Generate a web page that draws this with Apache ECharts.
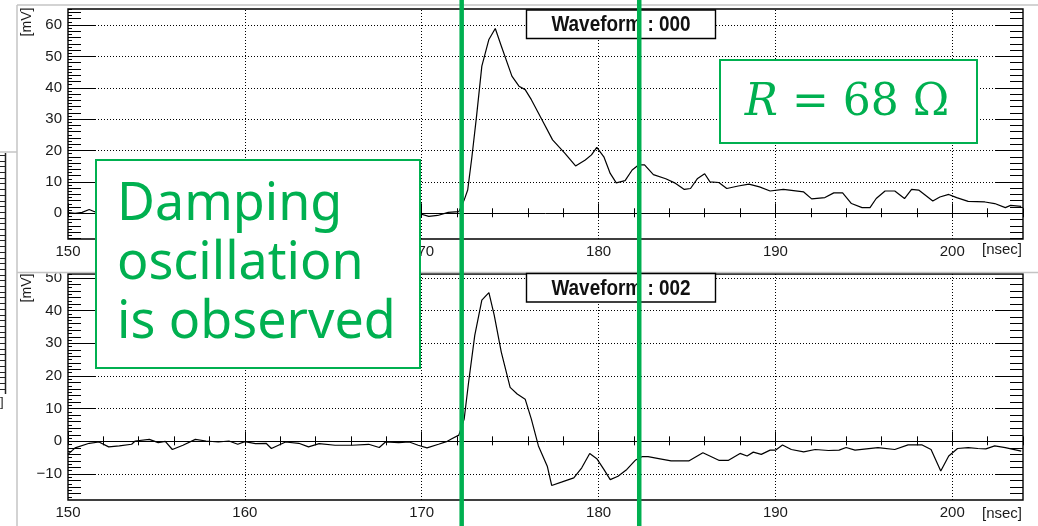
<!DOCTYPE html>
<html>
<head>
<meta charset="utf-8">
<script src="https://cdn.jsdelivr.net/npm/echarts@6/dist/echarts.min.js"></script>
<style>
  html, body { margin: 0; padding: 0; background: #fff; }
  #chart { width: 1038px; height: 526px; }
</style>
</head>
<body>
<div id="chart"></div>
<script>
// ---- waveform 000 (upper panel): time [nsec], amplitude [mV]
const timeTop = [
  150.0, 150.4, 150.8, 151.2, 151.5, 152.0, 152.6, 153.2, 153.9, 154.5,
  155.2, 155.9, 156.6, 157.3, 158.0, 158.8, 159.5, 160.2, 160.9, 161.6,
  162.3, 163.0, 163.8, 164.5, 165.2, 166.0, 166.7, 167.4, 168.1, 168.8,
  169.4, 169.8, 170.4, 170.9, 171.5, 172.1, 172.4, 172.6, 172.84, 173.1,
  173.4, 173.8, 174.16, 174.5, 175.1, 175.5, 175.85, 176.2, 176.8, 177.4,
  178.1, 178.7, 179.25, 179.6, 179.9, 180.3, 180.66, 181.0, 181.5, 181.9,
  182.26, 182.6, 183.1, 183.8, 184.3, 184.85, 185.2, 185.6, 186.0, 186.3,
  186.8, 187.25, 187.9, 188.5, 189.1, 189.7, 190.45, 191.6, 192.05, 192.8,
  193.3, 193.8, 194.3, 194.9, 195.35, 195.7, 196.2, 196.75, 197.3, 197.7,
  198.1, 198.9, 199.3, 199.8, 200.25, 200.9, 201.85, 202.4, 203.0, 203.3,
  203.9
];
const mvTop = [
  0.2, 0.0, 0.3, 1.2, 0.5, 0.0, -0.4, 0.1, -0.6, 0.2,
  -0.3, -1.0, -0.2, 0.3, -0.5, -0.2, -0.8, 0.1, -0.4, -1.1,
  -0.3, 0.2, -0.6, -0.2, -0.9, -0.4, 0.1, -0.7, -0.3, -1.0,
  -0.5, 0.0, -1.0, -0.7, 0.3, 0.5, 4.2, 7.4, 18.0, 30.9,
  46.9, 55.4, 58.9, 53.3, 43.7, 40.5, 39.4, 36.2, 29.8, 23.4,
  19.1, 15.1, 17.0, 18.6, 21.0, 18.0, 12.7, 9.7, 10.4, 13.8,
  15.4, 15.4, 12.3, 11.0, 9.7, 7.6, 7.9, 11.1, 12.6, 10.0,
  9.8, 7.9, 8.7, 9.3, 8.4, 7.1, 7.6, 6.8, 4.6, 5.0,
  6.5, 6.5, 3.1, 1.8, 1.8, 4.7, 7.1, 7.1, 4.7, 7.6,
  7.4, 3.9, 5.2, 6.0, 5.0, 3.8, 3.6, 3.1, 1.8, 2.5,
  2.2
];

// ---- waveform 002 (lower panel)
const timeBottom = [
  150.0, 150.4, 151.2, 151.75, 152.3, 152.9, 153.6, 153.8, 154.6, 155.1,
  155.5, 155.9, 156.5, 157.2, 157.8, 158.5, 159.1, 159.6, 160.0, 160.6,
  161.2, 161.5, 162.3, 163.05, 163.6, 164.2, 165.1, 166.05, 167.0, 167.6,
  167.95, 168.7, 169.3, 169.8, 170.3, 170.95, 171.4, 171.7, 172.1, 172.4,
  172.65, 173.0, 173.4, 173.8, 174.1, 174.5, 175.0, 175.4, 175.85, 176.2,
  176.6, 177.1, 177.35, 177.9, 178.6, 179.05, 179.5, 179.9, 180.3, 180.66,
  181.1, 181.6, 182.1, 182.45, 182.8, 183.4, 184.1, 185.1, 185.9, 186.8,
  187.35, 188.0, 188.4, 188.75, 189.2, 189.7, 190.0, 190.4, 190.9, 191.6,
  192.25, 193.0, 193.6, 194.0, 194.5, 195.8, 196.75, 197.5, 198.3, 198.8,
  199.35, 199.8, 200.3, 200.9, 201.45, 201.9, 202.4, 203.0, 203.9
];
const mvBottom = [
  -4.0, -2.0, -0.6, -0.2, -1.7, -1.4, -0.9, 0.1, 0.6, -0.4,
  0.0, -2.5, -1.2, 0.6, 0.1, -0.2, 0.1, -0.9, -0.1, -0.7,
  -0.6, -2.2, -0.2, -0.6, -1.7, -0.7, -1.2, -1.2, -0.9, -1.9,
  -0.2, -0.4, -0.2, -1.2, -2.0, -0.9, -0.1, 0.8, 1.9, 6.8,
  18.0, 32.4, 43.2, 45.5, 38.6, 27.3, 16.5, 14.5, 12.9, 6.8,
  -1.4, -7.6, -13.5, -12.5, -11.2, -8.1, -3.7, -5.3, -8.6, -11.7,
  -10.7, -8.6, -5.7, -4.7, -4.7, -5.3, -6.0, -6.0, -3.5, -5.8,
  -5.8, -3.7, -4.5, -3.3, -4.0, -2.7, -2.7, -1.1, -2.5, -3.2,
  -2.5, -2.8, -2.7, -1.9, -2.7, -1.9, -2.5, -1.1, -1.1, -2.5,
  -9.1, -4.5, -2.2, -1.9, -2.2, -2.3, -1.4, -1.9, -3.0
];

// ---- axes
const timeRange = [150, 204];
const timeMajorLabels = [150, 160, 170, 180, 190, 200];
const mvRangeTop = [-8.2, 65.1];
const mvRangeBottom = [-17.95, 51.2];
const mvMajorTop = [0, 10, 20, 30, 40, 50, 60];
const mvMajorBottom = [-10, 0, 10, 20, 30, 40, 50];

// ---- annotations
const markerTimes = [172.26, 182.3];
const panelTitles = ['Waveform : 000', 'Waveform : 002'];
const noteText = ['Damping', 'oscillation', 'is observed'];
const resistanceText = { symbol: 'R', rest: ' = 68 \u03A9' };

const GREEN = '#00b050';
const LABEL_FONT = 'Liberation Sans, Arial, sans-serif';

function steps(from, to, step) {
  const out = [];
  for (let v = Math.ceil(from / step) * step; v <= to + 1e-9; v += step) out.push(+v.toFixed(6));
  return out;
}
function pairs(xs, ys) { return xs.map((x, i) => [x, ys[i]]); }
function mvFormat(v) { return v < 0 ? '\u2212' + (-v) : String(v); }

const grids = [
  { left: 68, top: 9, width: 955, height: 230 },
  { left: 68, top: 274, width: 955, height: 226 }
].map(g => Object.assign({
  show: true, borderColor: '#000', borderWidth: 1.4, backgroundColor: '#fff',
  containLabel: false, outerBoundsMode: 'none'
}, g));

const tickLine = { color: '#000', width: 1 };

function timeAxes(g) {
  const base = {
    gridIndex: g, type: 'value', min: timeRange[0], max: timeRange[1],
    axisLine: { show: false }, splitLine: { show: false }, axisLabel: { show: false }
  };
  return [
    Object.assign({}, base, {
      position: 'bottom', interval: 10,
      axisTick: { show: true, inside: true, length: 10, lineStyle: tickLine },
      axisLabel: {
        show: true, showMaxLabel: false, margin: 5, fontSize: 15,
        fontFamily: LABEL_FONT, color: '#1a1a1a'
      }
    }),
    Object.assign({}, base, {
      position: 'bottom', interval: 2,
      axisTick: { show: true, inside: true, length: 5, lineStyle: tickLine }
    }),
    Object.assign({}, base, {
      position: 'top', interval: 2,
      axisTick: { show: true, inside: true, length: 4, lineStyle: tickLine }
    })
  ];
}

function mvAxes(g, range, majors) {
  const minor2 = steps(range[0], range[1], 2);
  const minor1 = steps(range[0], range[1], 1);
  const base = {
    gridIndex: g, type: 'value', min: range[0], max: range[1],
    axisLine: { show: false }, splitLine: { show: false }, axisLabel: { show: false }
  };
  const tick = (len, values) => ({
    show: true, inside: true, length: len, customValues: values, lineStyle: tickLine
  });
  return [
    Object.assign({}, base, {
      position: 'left', axisTick: tick(27, majors),
      axisLabel: {
        show: true, customValues: majors, formatter: mvFormat, margin: 6,
        fontSize: 15, fontFamily: LABEL_FONT, color: '#1a1a1a'
      }
    }),
    Object.assign({}, base, { position: 'left', axisTick: tick(13, minor2) }),
    Object.assign({}, base, { position: 'left', axisTick: tick(4, minor1) }),
    Object.assign({}, base, { position: 'right', axisTick: tick(27, majors) }),
    Object.assign({}, base, { position: 'right', axisTick: tick(13, minor2) })
  ];
}

function gridLines(majors) {
  const dotted = { type: [1, 2], color: '#000', width: 1 };
  const data = [];
  timeMajorLabels.slice(1).forEach(t => data.push({ xAxis: t, lineStyle: dotted }));
  majors.filter(v => v !== 0).forEach(v => data.push({ yAxis: v, lineStyle: dotted }));
  data.push({ yAxis: 0, lineStyle: { type: 'solid', color: '#000', width: 1 } });
  return {
    silent: true, symbol: ['none', 'none'], label: { show: false },
    emphasis: { disabled: true }, animation: false, data
  };
}

function waveSeries(xIdx, yIdx, xs, ys, majors) {
  return {
    type: 'line', xAxisIndex: xIdx, yAxisIndex: yIdx,
    data: pairs(xs, ys), showSymbol: false, symbol: 'none', smooth: false,
    silent: true, clip: true, z: 3,
    lineStyle: { color: '#000', width: 1.2 },
    markLine: gridLines(majors)
  };
}

const chart = echarts.init(document.getElementById('chart'), null, { renderer: 'canvas' });

chart.setOption({
  animation: false,
  backgroundColor: '#fff',
  grid: grids,
  xAxis: timeAxes(0).concat(timeAxes(1)),
  yAxis: mvAxes(0, mvRangeTop, mvMajorTop).concat(mvAxes(1, mvRangeBottom, mvMajorBottom)),
  series: [
    waveSeries(0, 0, timeTop, mvTop, mvMajorTop),
    waveSeries(3, 5, timeBottom, mvBottom, mvMajorBottom)
  ]
});

// ---- overlays: pad borders, axis units, panel titles, notes and marker lines
const padGray = '#c4c4c4';
const els = [];

// pad borders and the edge of the neighbouring pad on the left
els.push({ type: 'line', shape: { x1: 17, y1: 5, x2: 17, y2: 526 }, style: { stroke: padGray, lineWidth: 1.5 }, z: 50 });
els.push({ type: 'line', shape: { x1: 17, y1: 5, x2: 1038, y2: 5 }, style: { stroke: padGray, lineWidth: 1.5 }, z: 50 });
els.push({ type: 'rect', shape: { x: 18, y: 256, width: 48, height: 17.5 }, style: { fill: '#fff' }, z: 49 });
els.push({ type: 'line', shape: { x1: 17, y1: 272.5, x2: 1038, y2: 272.5 }, style: { stroke: padGray, lineWidth: 1.5 }, z: 50 });
els.push({ type: 'line', shape: { x1: 0, y1: 152, x2: 17, y2: 152 }, style: { stroke: padGray, lineWidth: 1.5 }, z: 50 });
els.push({ type: 'line', shape: { x1: 5.5, y1: 153, x2: 5.5, y2: 394 }, style: { stroke: '#222', lineWidth: 1.5 }, z: 50 });
for (let y = 155; y <= 392; y += 5.7) {
  els.push({ type: 'line', shape: { x1: 0, y1: Math.round(y) + 0.5, x2: 5.5, y2: Math.round(y) + 0.5 }, style: { stroke: '#222', lineWidth: 1 }, z: 50 });
}
els.push({ type: 'text', x: 0, y: 396, style: { text: ']', font: '13px ' + LABEL_FONT, fill: '#222' }, z: 50 });

// axis unit labels
[22, 288].forEach(cy => {
  els.push({
    type: 'text', x: 27, y: cy, rotation: Math.PI / 2,
    style: { text: '[mV]', font: '14px ' + LABEL_FONT, fill: '#1a1a1a', align: 'center', verticalAlign: 'middle' }, z: 50
  });
});
[250, 514].forEach(cy => {
  els.push({
    type: 'text', x: 1022, y: cy,
    style: { text: '[nsec]', font: '15px ' + LABEL_FONT, fill: '#1a1a1a', align: 'right', verticalAlign: 'middle' }, z: 50
  });
});

// panel titles (condensed bold text, scaled about its own anchor)
[[10, 24.5], [273.5, 289]].forEach((pos, i) => {
  els.push({
    type: 'rect', shape: { x: 526.5, y: pos[0], width: 189, height: 28.5 },
    style: { fill: '#fff', stroke: '#000', lineWidth: 1.4 }, z: 60
  });
  els.push({
    type: 'text', x: 621, y: pos[1], scaleX: 0.86,
    style: { text: panelTitles[i], font: 'bold 22px ' + LABEL_FONT, fill: '#111', align: 'center', verticalAlign: 'middle' }, z: 61
  });
});

// note boxes
els.push({
  type: 'rect', shape: { x: 96, y: 160, width: 324, height: 208 },
  style: { fill: '#fff', stroke: GREEN, lineWidth: 2 }, z: 70
});
els.push({
  type: 'text', x: 117, y: 176,
  style: {
    text: noteText.join('\n'), font: '52px "Noto Sans", sans-serif', fill: GREEN,
    lineHeight: 59, align: 'left', verticalAlign: 'top'
  }, z: 71
});
els.push({
  type: 'rect', shape: { x: 720, y: 60, width: 257, height: 83 },
  style: { fill: '#fff', stroke: GREEN, lineWidth: 2 }, z: 70
});
els.push({
  type: 'text', x: 847, y: 104,
  style: {
    text: '{r|' + resistanceText.symbol + '}{n|' + resistanceText.rest + '}',
    align: 'center', verticalAlign: 'middle',
    rich: {
      r: { font: 'italic 44px "DejaVu Serif", serif', fill: GREEN },
      n: { font: '44px "DejaVu Serif", serif', fill: GREEN }
    }
  }, z: 71
});

// marker lines at the pulse start and the first reflection
markerTimes.forEach(t => {
  const px = chart.convertToPixel({ xAxisIndex: 0 }, t);
  els.push({ type: 'line', shape: { x1: px, y1: 0, x2: px, y2: 526 }, style: { stroke: GREEN, lineWidth: 4.5 }, z: 90 });
});

chart.setOption({ graphic: { elements: els } });
</script>
</body>
</html>
